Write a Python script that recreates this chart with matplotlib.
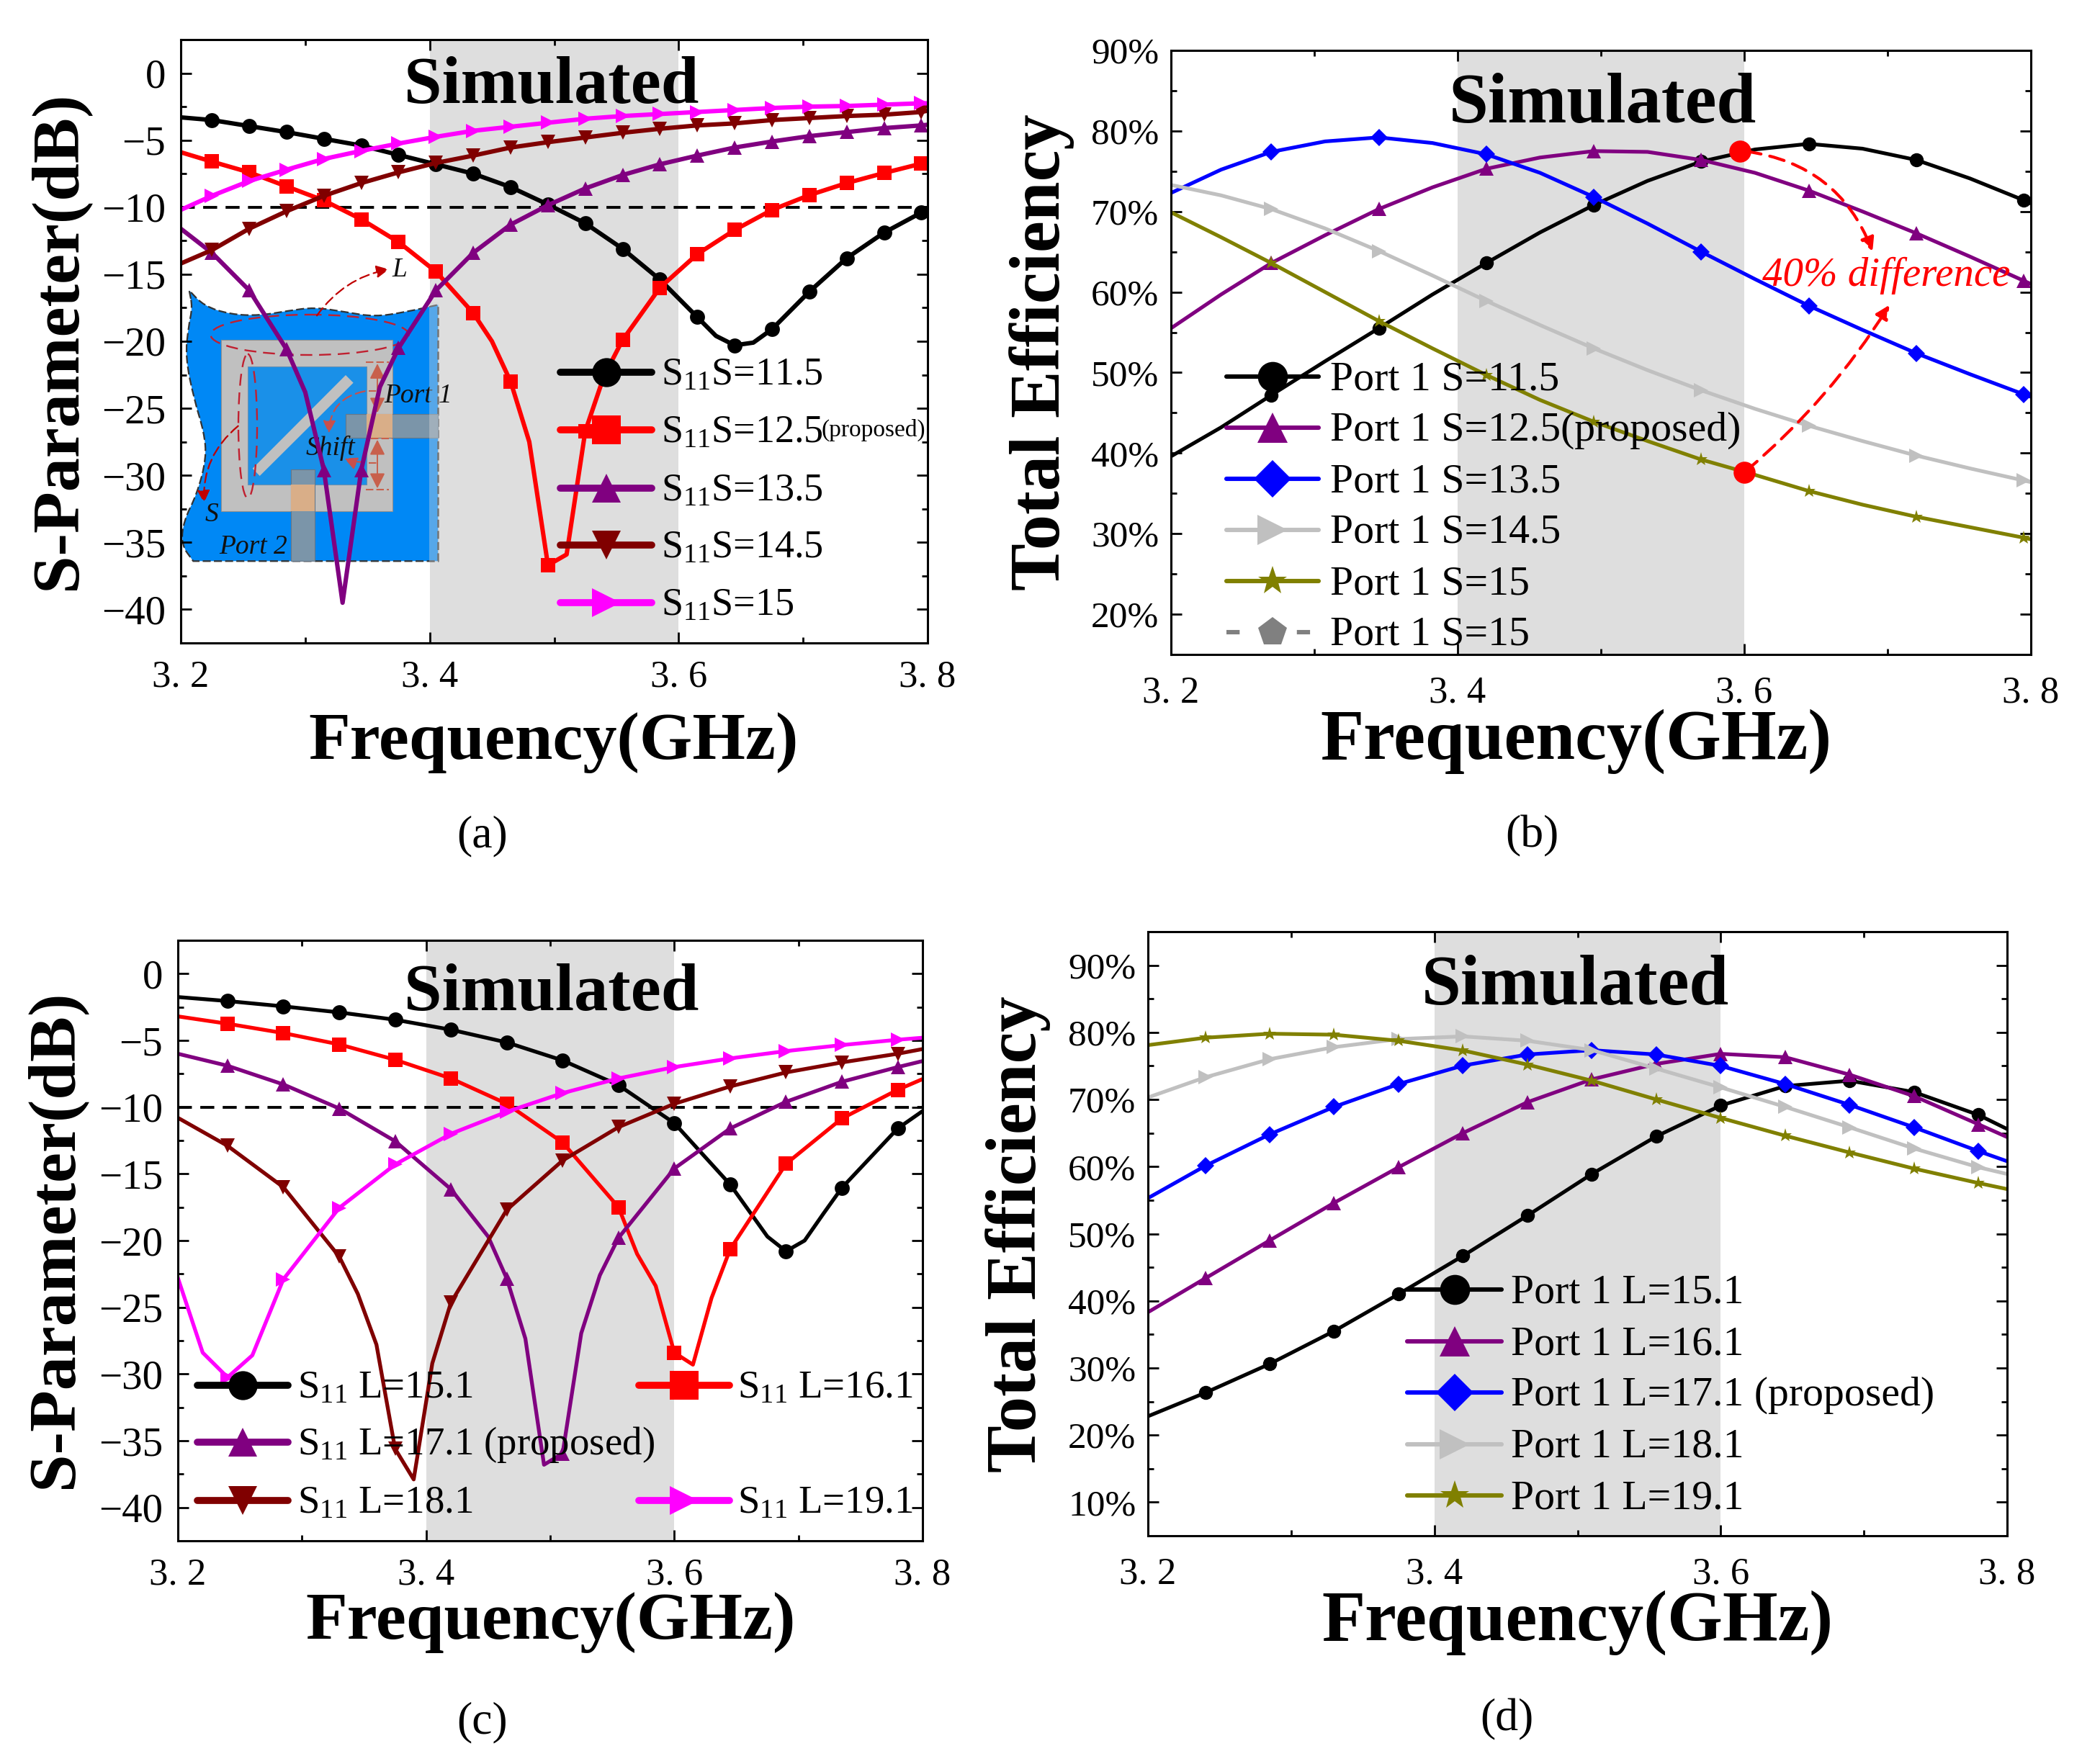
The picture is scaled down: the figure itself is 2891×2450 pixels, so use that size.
import numpy as np
import matplotlib
matplotlib.use("Agg")
import matplotlib.pyplot as plt
from matplotlib.lines import Line2D
from matplotlib.patches import Ellipse, FancyArrowPatch, PathPatch, Polygon, Rectangle
from matplotlib.path import Path
from matplotlib.transforms import Affine2D

plt.rcParams['font.family'] = ['Liberation Serif', 'DejaVu Serif']
plt.rcParams['mathtext.fontset'] = 'custom'
plt.rcParams['mathtext.rm'] = 'Liberation Serif'
plt.rcParams['mathtext.it'] = 'Liberation Serif:italic'
plt.rcParams['mathtext.default'] = 'rm'

W, H = 2891, 2450

# --- panel (a), S11 vs S ---
a_freq = [3.225, 3.255, 3.285, 3.315, 3.345, 3.375, 3.405, 3.435, 3.465, 3.495,
          3.525, 3.555, 3.585, 3.615, 3.645, 3.675, 3.705, 3.735, 3.765, 3.795]
a_s115 = [-3.5, -3.95, -4.4, -4.9, -5.4, -6.1, -6.8, -7.5, -8.5, -9.8,
          -11.2, -13.1, -15.4, -18.2, -20.3, -19.1, -16.3, -13.8, -11.9, -10.4]
a_s115_xf = [3.2, 3.63, 3.66, 3.8]
a_s115_xv = [-3.3, -19.6, -20.1, -10.2]
a_s125 = [-6.6, -7.4, -8.45, -9.5, -10.9, -12.6, -14.8, -17.9, -23, -36.7,
          -26.7, -19.9, -16, -13.5, -11.7, -10.2, -9.1, -8.2, -7.45, -6.75]
a_s125_xf = [3.2, 3.45, 3.48, 3.51, 3.54, 3.8]
a_s125_xv = [-5.9, -20, -27.5, -35.9, -22.6, -6.6]
a_s135 = [-13.4, -16.2, -20.6, -29.6, -29.6, -20.5, -16.2, -13.4, -11.3, -9.85,
          -8.6, -7.6, -6.8, -6.15, -5.55, -5.1, -4.7, -4.4, -4.1, -3.9]
a_s135_xf = [3.2, 3.3, 3.33, 3.36, 3.8]
a_s135_xv = [-11.6, -23.8, -39.5, -23.4, -3.85]
a_s145 = [-13.2, -11.6, -10.3, -9.15, -8.2, -7.4, -6.7, -6.15, -5.55, -5.15,
          -4.8, -4.45, -4.15, -3.9, -3.75, -3.5, -3.35, -3.2, -3.1, -2.9]
a_s145_xf = [3.2, 3.8]
a_s145_xv = [-14.2, -2.8]
a_s150 = [-9.15, -8.05, -7.2, -6.4, -5.8, -5.25, -4.75, -4.3, -4, -3.7,
          -3.4, -3.2, -3.05, -2.9, -2.75, -2.6, -2.5, -2.45, -2.35, -2.25]
a_s150_xf = [3.2, 3.8]
a_s150_xv = [-10.2, -2.25]

# --- panel (b), efficiency vs S ---
b_freq = [3.27, 3.345, 3.42, 3.495, 3.57, 3.645, 3.72, 3.795]
b_xf = [3.2, 3.235, 3.3075, 3.3825, 3.4575, 3.5325, 3.6075, 3.6825, 3.7575, 3.8]
b_s115 = [47.2, 55.5, 63.6, 70.8, 76.2, 78.4, 76.4, 71.4]
b_s115_xv = [39.6, 43.2, 51.4, 59.7, 67.4, 73.8, 77.7, 77.8, 74.1, 71]
b_s125 = [63.6, 70.3, 75.3, 77.5, 76.4, 72.6, 67.3, 61.4]
b_s125_xv = [55.5, 59.7, 67.05, 73, 76.7, 77.4, 74.8, 70, 64.4, 61]
b_s135 = [77.4, 79.2, 77.1, 71.8, 65, 58.3, 52.4, 47.3]
b_s135_xv = [72.3, 75.2, 78.7, 78.5, 74.8, 68.5, 61.6, 55.3, 49.8, 47]
b_s145 = [70.3, 65.1, 58.9, 53, 47.8, 43.4, 39.7, 36.6]
b_s145_xv = [73.3, 72, 67.9, 62.05, 55.9, 50.3, 45.5, 41.5, 38.1, 36.4]
b_s150 = [63.6, 56.4, 49.7, 43.9, 39.2, 35.3, 32.1, 29.5]
b_s150_xv = [69.9, 66.8, 60, 53, 46.6, 41.5, 37.3, 33.6, 30.8, 29.3]

# --- panel (c), S11 vs L ---
c_freq = [3.24, 3.285, 3.33, 3.375, 3.42, 3.465, 3.51, 3.555, 3.6, 3.645, 3.69, 3.735, 3.78]
c_l151 = [-2.05, -2.45, -2.9, -3.45, -4.2, -5.15, -6.5, -8.35, -11.2, -15.8, -20.8, -16.05, -11.6]
c_l151_xf = [3.2, 3.675, 3.705, 3.72, 3.8]
c_l151_xv = [-1.75, -19.7, -20, -18, -10.3]
c_l161 = [-3.75, -4.45, -5.3, -6.45, -7.85, -9.75, -12.65, -17.5, -28.4, -20.65, -14.25, -10.85, -8.7]
c_l161_xf = [3.2, 3.57, 3.585, 3.615, 3.63, 3.8]
c_l161_xv = [-3.2, -21, -23.4, -29.3, -24.3, -7.9]
c_l171 = [-6.9, -8.3, -10.1, -12.55, -16.15, -22.85, -35.95, -19.8, -14.6, -11.6, -9.6, -8.1, -7]
c_l171_xf = [3.2, 3.45, 3.48, 3.495, 3.525, 3.54, 3.8]
c_l171_xv = [-6, -19.7, -27.35, -36.8, -26.95, -22.6, -6.55]
c_l181 = [-12.9, -16, -21.2, -35.6, -24.65, -17.7, -14, -11.5, -9.75, -8.45, -7.4, -6.65, -6]
c_l181_xf = [3.2, 3.345, 3.36, 3.39, 3.405, 3.8]
c_l181_xv = [-10.8, -24, -27.8, -37.9, -29.2, -5.65]
c_l191 = [-30.25, -22.9, -17.55, -14.3, -12, -10.35, -8.95, -7.85, -7, -6.35, -5.8, -5.35, -4.95]
c_l191_xf = [3.2, 3.22, 3.26, 3.8]
c_l191_xv = [-22.8, -28.4, -28.6, -4.8]

# --- panel (d), efficiency vs L ---
d_freq = c_freq
d_xf = [3.2, 3.8]
d_l151 = [26.3, 30.6, 35.5, 41, 46.7, 52.7, 58.9, 64.5, 69.1, 72, 72.8, 71.1, 67.7]
d_l151_xv = [22.8, 65.6]
d_l161 = [43.35, 49, 54.6, 59.9, 65, 69.6, 73, 75.3, 76.8, 76.3, 73.7, 70.5, 66.3]
d_l161_xv = [38.3, 64.4]
d_l171 = [60.1, 64.8, 68.9, 72.3, 75.05, 76.7, 77.35, 76.7, 75, 72.3, 69.2, 65.85, 62.3]
d_l171_xv = [55.3, 60.8]
d_l181 = [73.3, 76, 77.8, 79, 79.4, 78.75, 77.35, 74.6, 71.8, 68.9, 65.85, 62.7, 59.9]
d_l181_xv = [70.3, 58.9]
d_l191 = [79.2, 79.8, 79.65, 78.75, 77.3, 75.2, 72.8, 70, 67.25, 64.6, 62.1, 59.7, 57.55]
d_l191_xv = [78.1, 56.65]

x_ticks = [3.2, 3.4, 3.6, 3.8]
x_labels = ['3. 2', '3. 4', '3. 6', '3. 8']
s_ticks = [0, -5, -10, -15, -20, -25, -30, -35, -40]
s_labels = ['0', '\u22125', '\u221210', '\u221215', '\u221220', '\u221225', '\u221230', '\u221235', '\u221240']
b_ticks = [20, 30, 40, 50, 60, 70, 80, 90]
d_ticks = [10, 20, 30, 40, 50, 60, 70, 80, 90]

BLACK, RED, PURPLE, DRED = '#000000', '#ff0000', '#800080', '#800000'
MAG, BLUE, GRAY, OLIVE = '#ff00ff', '#0000ff', '#c0c0c0', '#808000'

fig = plt.figure(figsize=(W / 100, H / 100), dpi=100, facecolor='white')
# full image pixel coordinates, y down
PX = Affine2D().scale(1 / W, -1 / H).translate(0, 1) + fig.transFigure
INS = Affine2D().scale(1 / 3).translate(220, 370) + PX


def make_axes(left, right, top, bottom, ylim, yticks, ylabels, yminor, ysize, ypad, xpad, shade=True):
    ax = fig.add_axes([left / W, 1 - bottom / H, (right - left) / W, (bottom - top) / H])
    ax.set_xlim(3.2, 3.8)
    ax.set_ylim(*ylim)
    ax.set_xticks(x_ticks)
    ax.set_xticklabels(x_labels)
    ax.set_xticks([3.3, 3.5, 3.7], minor=True)
    ax.set_yticks(yticks)
    ax.set_yticklabels(ylabels)
    ax.set_yticks(yminor, minor=True)
    ax.tick_params(which='major', direction='in', top=True, right=True, length=11, width=2)
    ax.tick_params(which='minor', direction='in', top=True, right=True, length=6, width=2)
    ax.tick_params(axis='x', which='major', labelsize=38, pad=xpad)
    ax.tick_params(axis='y', which='major', labelsize=ysize, pad=ypad)
    for sp in ax.spines.values():
        sp.set_linewidth(2.2)
        sp.set_zorder(12)
    if shade:
        ax.axvspan(3.4, 3.6, color='#dedede', lw=0, zorder=0)
    return ax


def curve(ax, mx, my, xf, xv, color, marker, lw, ms, z=5):
    x = np.array(list(mx) + list(xf))
    y = np.array(list(my) + list(xv))
    order = np.argsort(x)
    ax.plot(x[order], y[order], color=color, lw=lw, zorder=z, solid_joinstyle='round')
    ax.plot(mx, my, ls='none', marker=marker, color=color, ms=ms, mew=0, zorder=z)


def legend_row(x0, x1, y, tx, label, color, marker, lw, ms, size, ls='-'):
    fig.add_artist(Line2D([x0, x1], [y, y], transform=PX, color=color, lw=lw, ls=ls,
                          solid_capstyle='round', zorder=20))
    fig.add_artist(Line2D([(x0 + x1) / 2], [y], transform=PX, color=color, marker=marker,
                          ms=ms, mew=0, zorder=21))
    fig.text(tx, y + 4, label, transform=PX, fontsize=size, va='center', ha='left', zorder=22)


def put(x, y, s, **kw):
    fig.text(x, y, s, transform=PX, ha='center', va='center', zorder=22, **kw)


def blob(points):
    # smooth closed outline; a repeated control point gives a sharp corner
    pts = np.array(points, dtype=float)
    mid = (pts + np.roll(pts, -1, axis=0)) / 2
    verts = [mid[-1]]
    codes = [Path.MOVETO]
    for i in range(len(pts)):
        verts += [pts[i], mid[i]]
        codes += [Path.CURVE3, Path.CURVE3]
    return Path(verts, codes)


def inset():
    outline = [(128, 100), (128, 100), (190, 165), (300, 200), (420, 205), (540, 185), (650, 170), (780, 190),
               (900, 210), (1030, 190), (1165, 160), (1165, 160), (1165, 1228), (1165, 1228), (145, 1228), (145, 1228),
               (95, 1160), (105, 1060), (160, 950), (200, 800), (190, 690), (150, 560), (112, 380),
               (125, 250), (142, 170)]
    fig.add_artist(PathPatch(blob(outline), transform=INS, fc='#0088f5', ec='#333333', lw=1.6,
                             ls=(0, (5, 2)), zorder=1))
    fig.add_artist(Rectangle((262, 306), 713, 714, transform=INS, fc='#c0c0c0', ec='#909090', lw=0.8, zorder=1.1))
    fig.add_artist(Rectangle((372, 416), 494, 494, transform=INS, fc='#1a90e8', ec='#6a90b0', lw=0.8, zorder=1.2))
    fig.add_artist(Polygon([(780, 453), (812, 485), (422, 873), (392, 842)], transform=INS,
                           fc='#c0c0c0', ec='none', zorder=1.3))
    fig.add_artist(Rectangle((780, 615), 385, 100, transform=INS, fc='#7b95a9', ec='#667788', lw=0.8, zorder=1.4))
    fig.add_artist(Rectangle((866, 615), 109, 100, transform=INS, fc='#d9ae88', ec='none', zorder=1.5))
    fig.add_artist(Rectangle((552, 845), 100, 383, transform=INS, fc='#7b95a9', ec='#667788', lw=0.8, zorder=1.4))
    fig.add_artist(Rectangle((552, 910), 100, 110, transform=INS, fc='#d9ae88', ec='none', zorder=1.5))
    dash = dict(fc='none', ec='#c02030', lw=1.7, ls=(0, (7, 4)), zorder=1.6)
    fig.add_artist(Ellipse((630, 285), 825, 168, transform=INS, **dash))
    fig.add_artist(Ellipse((372, 665), 78, 600, transform=INS, **dash))
    for start, end, rad, col in [((660, 205), (960, 12), -0.2, '#c00000'), ((332, 665), (190, 985), 0.25, '#c00000'),
                                 ((860, 520), (710, 695), 0.4, '#c8504c'), ((845, 815), (775, 800), -0.1, '#c8504c')]:
        fig.add_artist(FancyArrowPatch(start, end, transform=INS, arrowstyle='-|>', mutation_scale=26,
                                       connectionstyle='arc3,rad=%g' % rad, color=col, lw=1.6,
                                       ls=(0, (6, 3)), shrinkA=0, shrinkB=0, zorder=1.7))
    for y0, y1 in [(505, 405), (505, 610), (822, 722), (822, 925)]:
        fig.add_artist(FancyArrowPatch((912, y0), (912, y1), transform=INS, arrowstyle='-|>', mutation_scale=32,
                                       color='#c8604c', lw=1.4, shrinkA=0, shrinkB=0, zorder=1.7))
    for y, x0, x1 in [(400, 865, 960), (520, 875, 915), (716, 885, 975), (820, 875, 915), (930, 865, 960)]:
        fig.add_artist(Line2D([x0, x1], [y, y], transform=INS, color='#c8604c', lw=1.5, ls=(0, (5, 2)), zorder=1.7))
    for x, y, s in [(1005, 15, 'L'), (222, 1035, 'S'), (1082, 538, 'Port 1'), (718, 758, 'Shift'), (395, 1170, 'Port 2')]:
        fig.text(x, y, s, transform=INS, fontsize=27, style='italic', ha='center', va='center', color='#111111', zorder=1.8)
    # the shaded band runs over the right edge of the drawing
    fig.add_artist(Rectangle((1128, 150), 38, 1080, transform=INS, fc='#d8d8d8', ec='none', alpha=0.4, zorder=1.9))


# (a) needs its band behind the inset drawing, so the band gets its own axes
ax_bg = fig.add_axes([251 / W, 1 - 893 / H, (1288 - 251) / W, (893 - 55) / H], zorder=0)
ax_bg.set_xlim(3.2, 3.8)
ax_bg.axvspan(3.4, 3.6, color='#dedede', lw=0)
ax_bg.axis('off')

ax_a = make_axes(251, 1288, 55, 893, (-42.5, 2.5), s_ticks, s_labels, np.arange(-42.5, 2.6, 5), 41, 15, 17, shade=False)
ax_a.patch.set_alpha(0)
ax_a.set_zorder(5)
ax_c = make_axes(247, 1281, 1306, 2140, (-42.5, 2.5), s_ticks, s_labels, np.arange(-42.5, 2.6, 5), 41, 15, 17)
ax_b = make_axes(1626, 2820, 70, 909, (15, 90), b_ticks, [f'{t}%' for t in b_ticks], np.arange(15, 90, 10), 37, 12, 21)
ax_d = make_axes(1594, 2787, 1294, 2133, (5, 95), d_ticks, [f'{t}%' for t in d_ticks], np.arange(5, 96, 10), 37, 12, 21)

inset()
for ser in [(a_s115, a_s115_xf, a_s115_xv, BLACK, 'o'), (a_s125, a_s125_xf, a_s125_xv, RED, 's'),
            (a_s135, a_s135_xf, a_s135_xv, PURPLE, '^'), (a_s145, a_s145_xf, a_s145_xv, DRED, 'v'),
            (a_s150, a_s150_xf, a_s150_xv, MAG, '>')]:
    curve(ax_a, a_freq, ser[0], ser[1], ser[2], ser[3], ser[4], 4.4, 15)
ax_a.axhline(-10, color='black', lw=2.8, ls=(0, (5, 3)), zorder=4)

for ser in [(b_s115, b_s115_xv, BLACK, 'o'), (b_s125, b_s125_xv, PURPLE, '^'), (b_s135, b_s135_xv, BLUE, 'D'),
            (b_s145, b_s145_xv, GRAY, '>'), (b_s150, b_s150_xv, OLIVE, '*')]:
    curve(ax_b, b_freq, ser[0], b_xf, ser[1], ser[2], ser[3], 3.7, 14 if ser[3] != 'D' else 12)
ax_b.plot([3.597, 3.6], [77.5, 37.6], ls='none', marker='o', color=RED, ms=22, mew=0, zorder=8)
ax_b.add_patch(FancyArrowPatch((3.6, 77.5), (3.69, 64.8), connectionstyle='arc3,rad=-0.3', arrowstyle='-|>',
                               mutation_scale=28, color=RED, lw=3, ls=(0, (5, 3)), zorder=7))
ax_b.add_patch(FancyArrowPatch((3.6, 37.6), (3.702, 58.6), connectionstyle='arc3,rad=0.08', arrowstyle='-|>',
                               mutation_scale=28, color=RED, lw=3, ls=(0, (5, 3)), zorder=7))
ax_b.text(3.699, 62, '40% difference', color=RED, style='italic', fontsize=41, ha='center', va='center', zorder=9)

for ser in [(c_l151, c_l151_xf, c_l151_xv, BLACK, 'o'), (c_l161, c_l161_xf, c_l161_xv, RED, 's'),
            (c_l171, c_l171_xf, c_l171_xv, PURPLE, '^'), (c_l181, c_l181_xf, c_l181_xv, DRED, 'v'),
            (c_l191, c_l191_xf, c_l191_xv, MAG, '>')]:
    curve(ax_c, c_freq, ser[0], ser[1], ser[2], ser[3], ser[4], 3.8, 15)
ax_c.axhline(-10, color='black', lw=2.8, ls=(0, (5, 3)), zorder=4)

for ser in [(d_l151, d_l151_xv, BLACK, 'o'), (d_l161, d_l161_xv, PURPLE, '^'), (d_l171, d_l171_xv, BLUE, 'D'),
            (d_l181, d_l181_xv, GRAY, '>'), (d_l191, d_l191_xv, OLIVE, '*')]:
    curve(ax_d, d_freq, ser[0], d_xf, ser[1], ser[2], ser[3], 3.7, 14 if ser[3] != 'D' else 12)

# legends
a_names = ['S$_{11}$S=11.5', 'S$_{11}$S=12.5', 'S$_{11}$S=13.5', 'S$_{11}$S=14.5', 'S$_{11}$S=15']
for y, name, col, mk in zip([517, 597, 678, 757, 837], a_names, [BLACK, RED, PURPLE, DRED, MAG], 'os^v>'):
    legend_row(778, 905, y, 918, name, col, mk, 7, 29, 39)
fig.text(1140, 597, '(proposed)', transform=PX, fontsize=24, va='center', ha='left', zorder=22)

b_names = ['Port 1 S=11.5', 'Port 1 S=12.5(proposed)', 'Port 1 S=13.5', 'Port 1 S=14.5', 'Port 1 S=15', 'Port 1 S=15']
for y, name, col, mk in zip([523, 594, 665, 736, 807], b_names, [BLACK, PURPLE, BLUE, GRAY, OLIVE], 'o^D>*'):
    legend_row(1703, 1831, y, 1847, name, col, mk, 4.4, 30 if mk != 'D' else 26, 41.6)
legend_row(1703, 1831, 878, 1847, b_names[5], '#808080', 'p', 4.4, 30, 41.6, ls=(0, (3, 5)))

for x0, x1, tx, y, name, col, mk in [(274, 400, 413, 1924, 'S$_{11}$ L=15.1', BLACK, 'o'),
                                     (887, 1013, 1024, 1924, 'S$_{11}$ L=16.1', RED, 's'),
                                     (274, 400, 413, 2003, 'S$_{11}$ L=17.1 (proposed)', PURPLE, '^'),
                                     (274, 400, 413, 2084, 'S$_{11}$ L=18.1', DRED, 'v'),
                                     (887, 1013, 1024, 2084, 'S$_{11}$ L=19.1', MAG, '>')]:
    legend_row(x0, x1, y, tx, name, col, mk, 7, 29, 39.5)

d_names = ['Port 1 L=15.1', 'Port 1 L=16.1', 'Port 1 L=17.1 (proposed)', 'Port 1 L=18.1', 'Port 1 L=19.1']
for y, name, col, mk in zip([1791, 1863, 1934, 2006, 2077], d_names, [BLACK, PURPLE, BLUE, GRAY, OLIVE], 'o^D>*'):
    legend_row(1954, 2085, y, 2098, name, col, mk, 4.4, 30 if mk != 'D' else 26, 41.6)

# titles, axis labels, captions
for x, y, sz in [(766, 120, 68), (2225, 146, 71), (766, 1381, 68), (2187, 1371, 71)]:
    put(x, y, 'Simulated', fontsize=sz, fontweight='bold')
for x, y, sz in [(769, 1031, 68), (2188, 1030, 71), (765, 2254, 68), (2190, 2254, 71)]:
    put(x, y, 'Frequency(GHz)', fontsize=sz, fontweight='bold')
for x, y in [(82, 473), (77, 1721)]:
    put(x, y, 'S-Parameter(dB)', fontsize=68, fontweight='bold', rotation=90)
for x, y in [(1447, 489), (1414, 1714)]:
    put(x, y, 'Total Efficiency', fontsize=71, fontweight='bold', rotation=90)
for x, y, s in [(670, 1161, '(a)'), (2127, 1161, '(b)'), (670, 2392, '(c)'), (2092, 2388, '(d)')]:
    put(x, y, s, fontsize=46)

fig.savefig('out.png', dpi=100)
